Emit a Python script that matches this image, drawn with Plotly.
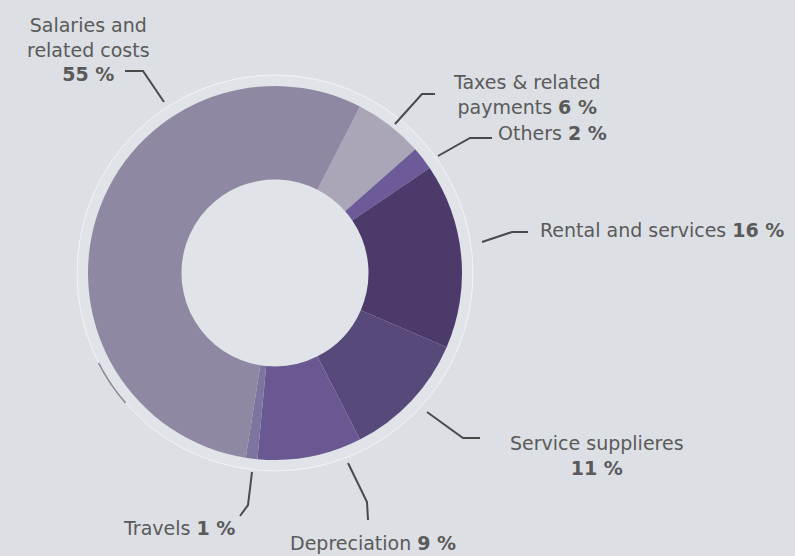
import math
import plotly.graph_objects as go

# Cost breakdown (share of total, %)
categories = ["Taxes & related payments", "Others", "Rental and services",
              "Service supplieres", "Depreciation", "Travels",
              "Salaries and related costs"]
shares = [6, 2, 16, 11, 9, 1, 55]
colors = ["#aaa6b8", "#6c5b98", "#4b3a6a", "#574a7b", "#6a5893", "#7f74a0", "#8f88a3"]

# how each category name is broken into lines for its callout
label_lines = ["Taxes & related<br>payments", "Others", "Rental and services",
               "Service supplieres<br>", "Depreciation", "Travels",
               "Salaries and<br>related costs<br>"]

W, H = 795, 556
BG = "#dcdfe3"
TEXT = "#5a5a5a"

# donut geometry in pixels
CX, CY, R = 275, 273, 187


def px(x):
    return x / W


def py(y):
    return 1 - y / H


fig = go.Figure(go.Pie(
    labels=categories,
    values=shares,
    hole=0.5,
    sort=False,
    direction="clockwise",
    rotation=27,
    textinfo="none",
    hoverinfo="label+percent",
    marker=dict(colors=colors, line=dict(width=0)),
    domain=dict(x=[px(CX - R), px(CX + R)], y=[py(CY + R), py(CY - R)]),
    showlegend=False,
))

# callout placement: (x, y, xanchor, align) in pixels
callout_pos = [
    (526, 94, "center", "center"),
    (496, 133, "left", "left"),
    (538, 230, "left", "left"),
    (597, 455, "center", "center"),
    (288, 543, "left", "left"),
    (121, 528, "left", "left"),
    (88, 49, "center", "center"),
]

# leader lines for each callout (pixel polylines)
leaders = [
    [(395, 124), (422, 94), (435, 94)],
    [(438, 156), (470, 138), (492, 138)],
    [(482, 242), (512, 232), (528, 232)],
    [(427, 412), (463, 438), (480, 438)],
    [(348, 463), (367, 502), (368, 520)],
    [(252, 472), (248, 505), (240, 516)],
    [(164, 102), (143, 71), (125, 71)],
]

annotations = []
for name, val, (x, y, xa, al) in zip(label_lines, shares, callout_pos):
    sep = "" if name.endswith("<br>") else " "
    annotations.append(dict(
        x=px(x), y=py(y), xref="paper", yref="paper",
        xanchor=xa, yanchor="middle", align=al, showarrow=False,
        text=f"{name}{sep}<b>{val} %</b>",
        font=dict(family="DejaVu Sans", size=19, color=TEXT),
    ))

shapes = []
# faint halo ring around the donut
RING = 198
shapes.append(dict(
    type="circle", xref="paper", yref="paper", layer="below",
    x0=px(CX - RING), x1=px(CX + RING), y0=py(CY + RING), y1=py(CY - RING),
    fillcolor="rgba(236,238,241,0.3)", line=dict(color="rgba(255,255,255,0.6)", width=1),
))
# short dark arc on the ring's lower left
arc_pts = []
for a in range(229, 244):
    t = math.radians(a)
    arc_pts.append((CX + RING * math.sin(t), CY - RING * math.cos(t)))
shapes.append(dict(
    type="path", xref="paper", yref="paper",
    path="M " + " L ".join(f"{px(x):.5f},{py(y):.5f}" for x, y in arc_pts),
    line=dict(color="rgba(70,70,80,0.6)", width=1.5),
))

for pts in leaders:
    shapes.append(dict(
        type="path", xref="paper", yref="paper",
        path="M " + " L ".join(f"{px(x):.5f},{py(y):.5f}" for x, y in pts),
        line=dict(color="#4a4a4a", width=2),
    ))

fig.update_layout(
    width=W, height=H,
    margin=dict(l=0, r=0, t=0, b=0),
    paper_bgcolor=BG, plot_bgcolor=BG,
    annotations=annotations,
    shapes=shapes,
)

fig.write_html("out.html")
